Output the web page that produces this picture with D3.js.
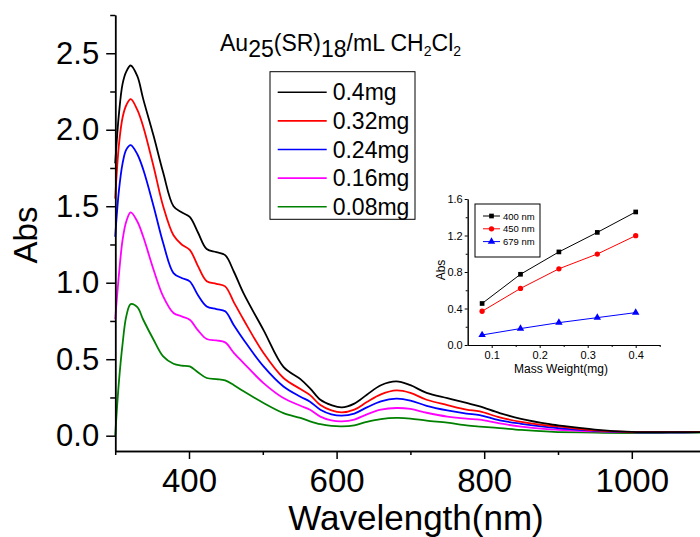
<!DOCTYPE html>
<html>
<head>
<meta charset="utf-8">
<script src="https://cdn.jsdelivr.net/npm/d3@7"></script>
<style>
  body { margin: 0; background: #ffffff; }
  svg { display: block; font-family: "Liberation Sans", Arial, sans-serif; }
</style>
</head>
<body>
<script>
// -----------------------------
// Data
// -----------------------------

const wavelengths = [300, 305, 310, 315, 321, 330, 338, 352, 365, 379, 390, 401, 412, 424, 437, 449, 461, 474, 501, 528,
  551, 564, 578, 593, 607, 624, 641, 660, 681, 700, 722, 750, 776, 794, 821, 850, 889, 900, 950, 1000, 1050, 1100];

const abs040 = [1.78, 2.10, 2.30, 2.38, 2.42, 2.35, 2.20, 1.96, 1.72, 1.50, 1.46, 1.43, 1.33, 1.22, 1.20, 1.18, 1.07, 0.93, 0.69, 0.45,
  0.37, 0.31, 0.235, 0.20, 0.185, 0.21, 0.268, 0.33, 0.355, 0.33, 0.28, 0.245, 0.214, 0.192, 0.148, 0.11, 0.075, 0.068, 0.04, 0.025, 0.023, 0.024];
const abs032 = [1.55, 1.90, 2.08, 2.16, 2.20, 2.13, 2.02, 1.76, 1.50, 1.31, 1.25, 1.215, 1.11, 1.01, 0.993, 0.976, 0.87, 0.758, 0.54, 0.377,
  0.305, 0.265, 0.20, 0.165, 0.152, 0.17, 0.22, 0.27, 0.296, 0.28, 0.235, 0.20, 0.17, 0.159, 0.12, 0.09, 0.065, 0.061, 0.035, 0.024, 0.023, 0.025];
const abs024 = [1.30, 1.60, 1.78, 1.87, 1.90, 1.84, 1.74, 1.50, 1.26, 1.063, 1.031, 1.009, 0.92, 0.845, 0.828, 0.813, 0.72, 0.627, 0.453, 0.322,
  0.255, 0.222, 0.17, 0.14, 0.131, 0.145, 0.185, 0.225, 0.242, 0.23, 0.195, 0.165, 0.145, 0.135, 0.10, 0.078, 0.055, 0.05, 0.032, 0.024, 0.022, 0.024];
const abs016 = [0.76, 1.05, 1.28, 1.40, 1.46, 1.40, 1.30, 1.085, 0.911, 0.802, 0.78, 0.758, 0.69, 0.632, 0.623, 0.61, 0.54, 0.475, 0.344, 0.246,
  0.196, 0.17, 0.125, 0.10, 0.094, 0.105, 0.14, 0.17, 0.181, 0.175, 0.15, 0.125, 0.111, 0.105, 0.08, 0.06, 0.042, 0.039, 0.028, 0.022, 0.022, 0.023];
const abs008 = [0.0, 0.35, 0.60, 0.78, 0.86, 0.84, 0.758, 0.627, 0.518, 0.47, 0.458, 0.453, 0.415, 0.377, 0.37, 0.362, 0.33, 0.29, 0.214, 0.148,
  0.116, 0.094, 0.075, 0.064, 0.061, 0.068, 0.09, 0.108, 0.116, 0.112, 0.098, 0.085, 0.068, 0.06, 0.05, 0.038, 0.026, 0.024, 0.02, 0.017, 0.018, 0.02];

const massLabels = ["0.4mg", "0.32mg", "0.24mg", "0.16mg", "0.08mg"];

const xTicks = [400, 600, 800, 1000];
const yTicks = [0, 0.5, 1.0, 1.5, 2.0, 2.5];

// inset: absorbance vs. mass at three wavelengths
const insetMass = [0.08, 0.16, 0.24, 0.32, 0.4];
const inset400 = [0.455, 0.775, 1.02, 1.234, 1.458];
const inset450 = [0.37, 0.62, 0.835, 0.997, 1.198];
const inset679 = [0.11, 0.18, 0.245, 0.30, 0.355];
const insetLabels = ["400 nm", "450 nm", "679 nm"];
const insetXTicks = [0.1, 0.2, 0.3, 0.4];
const insetYTicks = [0, 0.4, 0.8, 1.2, 1.6];

// -----------------------------
// SVG Setup
// -----------------------------

const WIDTH = 700;
const HEIGHT = 537;

const svg = d3.select("body")
  .append("svg")
  .attr("width", WIDTH)
  .attr("height", HEIGHT)
  .attr("viewBox", `0 0 ${WIDTH} ${HEIGHT}`);

// -----------------------------
// Main spectrum
// -----------------------------

const x = d3.scaleLinear().domain([300, 1100]).range([115.2, 705.6]);
const y = d3.scaleLinear().domain([-0.1, 2.75]).range([451, 15]);

const series = [
  { label: massLabels[0], values: abs040, color: "#000000" },
  { label: massLabels[1], values: abs032, color: "#ff0000" },
  { label: massLabels[2], values: abs024, color: "#0000ff" },
  { label: massLabels[3], values: abs016, color: "#ff00ff" },
  { label: massLabels[4], values: abs008, color: "#008000" }
];

const line = d3.line()
  .x((d, i) => x(wavelengths[i]))
  .y(d => y(d))
  .curve(d3.curveCatmullRom.alpha(0.5));

// draw lowest first so the black curve sits on top
svg.append("g")
  .selectAll("path")
  .data(series.slice().reverse())
  .join("path")
  .attr("d", d => line(d.values))
  .attr("fill", "none")
  .attr("stroke", d => d.color)
  .attr("stroke-width", 1.8)
  .attr("stroke-linejoin", "round");

// axes
function styleAxis(g, fontSize) {
  g.select(".domain").attr("stroke", "#000").attr("stroke-width", 1.5);
  g.selectAll(".tick line").attr("stroke", "#000").attr("stroke-width", 1.5);
  g.selectAll(".tick text")
    .attr("fill", "#000")
    .style("font-size", `${fontSize}px`)
    .style("font-family", "'Liberation Sans', Arial, sans-serif");
}

svg.append("g")
  .attr("transform", `translate(0, ${y.range()[0]})`)
  .call(d3.axisBottom(x).tickValues([300, 500, 700, 900, 1100]).tickSize(4).tickSizeOuter(0).tickFormat(""))
  .call(g => styleAxis(g, 33));

svg.append("g")
  .attr("transform", `translate(0, ${y.range()[0]})`)
  .call(d3.axisBottom(x).tickValues(xTicks).tickSize(8).tickSizeOuter(0).tickPadding(10).tickFormat(d3.format("d")))
  .call(g => styleAxis(g, 33));

svg.append("g")
  .attr("transform", `translate(${x.range()[0]}, 0)`)
  .call(d3.axisLeft(y).tickValues([0.25, 0.75, 1.25, 1.75, 2.25, 2.75]).tickSize(5).tickSizeOuter(0).tickFormat(""))
  .call(g => styleAxis(g, 31));

svg.append("g")
  .attr("transform", `translate(${x.range()[0]}, 0)`)
  .call(d3.axisLeft(y).tickValues(yTicks).tickSize(9).tickSizeOuter(0).tickPadding(7).tickFormat(d3.format(".1f")))
  .call(g => styleAxis(g, 31));

// axis titles
svg.append("text")
  .attr("x", 416)
  .attr("y", 530)
  .attr("text-anchor", "middle")
  .attr("font-size", 35)
  .text("Wavelength(nm)");

svg.append("text")
  .attr("transform", "translate(37, 235) rotate(-90)")
  .attr("text-anchor", "middle")
  .attr("font-size", 33)
  .text("Abs");

// title with subscripts
const title = svg.append("text")
  .attr("x", 220)
  .attr("y", 51)
  .attr("font-size", 23);
title.append("tspan").text("Au");
title.append("tspan").attr("dy", 6).text("25");
title.append("tspan").attr("dy", -6).text("(SR)");
title.append("tspan").attr("dy", 6).text("18");
title.append("tspan").attr("dy", -6).text("/mL CH");
title.append("tspan").attr("dy", 5).attr("font-size", 14).text("2");
title.append("tspan").attr("dy", -5).text("Cl");
title.append("tspan").attr("dy", 5).attr("font-size", 14).text("2");

// legend
const legend = svg.append("g");

legend.append("rect")
  .attr("x", 270)
  .attr("y", 71.7)
  .attr("width", 145)
  .attr("height", 147.6)
  .attr("fill", "#fff")
  .attr("stroke", "#000")
  .attr("stroke-width", 1);

const legendItem = legend.selectAll("g.item")
  .data(series)
  .join("g")
  .attr("class", "item")
  .attr("transform", (d, i) => `translate(0, ${92.3 + i * 28.6})`);

legendItem.append("line")
  .attr("x1", 277.7)
  .attr("x2", 326.7)
  .attr("stroke", d => d.color)
  .attr("stroke-width", 1.6);

legendItem.append("text")
  .attr("x", 332.7)
  .attr("dominant-baseline", "central")
  .attr("font-size", 23)
  .text(d => d.label);

// -----------------------------
// Inset
// -----------------------------

const xi = d3.scaleLinear().domain([0.05, 0.45]).range([467.7, 659.7]);
const yi = d3.scaleLinear().domain([0, 1.6]).range([345, 199]);

const insetSeries = [
  { label: insetLabels[0], values: inset400, color: "#000000", symbol: d3.symbolSquare, size: 22 },
  { label: insetLabels[1], values: inset450, color: "#ff0000", symbol: d3.symbolCircle, size: 22 },
  { label: insetLabels[2], values: inset679, color: "#0000ff", symbol: d3.symbolTriangle, size: 24 }
];

const inset = svg.append("g");

const insetLine = d3.line()
  .x((d, i) => xi(insetMass[i]))
  .y(d => yi(d));

const insetGroup = inset.selectAll("g.series")
  .data(insetSeries)
  .join("g")
  .attr("class", "series");

insetGroup.append("path")
  .attr("d", d => insetLine(d.values))
  .attr("fill", "none")
  .attr("stroke", d => d.color)
  .attr("stroke-width", 1);

insetGroup.selectAll("path.marker")
  .data(d => d.values.map((v, i) => ({ v, m: insetMass[i], s: d })))
  .join("path")
  .attr("class", "marker")
  .attr("transform", d => `translate(${xi(d.m)}, ${yi(d.v)})`)
  .attr("d", d => d3.symbol().type(d.s.symbol).size(d.s.size)())
  .attr("fill", d => d.s.color);

inset.append("g")
  .attr("transform", `translate(0, ${yi.range()[0]})`)
  .call(d3.axisBottom(xi).tickValues([0.15, 0.25, 0.35, 0.45]).tickSize(2).tickSizeOuter(0).tickFormat(""))
  .call(g => styleAxis(g, 11))
  .call(g => g.selectAll("line, path").attr("stroke-width", 1));

inset.append("g")
  .attr("transform", `translate(0, ${yi.range()[0]})`)
  .call(d3.axisBottom(xi).tickValues(insetXTicks).tickSize(3).tickSizeOuter(0).tickPadding(3).tickFormat(d3.format(".1f")))
  .call(g => styleAxis(g, 11))
  .call(g => g.selectAll("line, path").attr("stroke-width", 1));

inset.append("g")
  .attr("transform", `translate(${xi.range()[0]}, 0)`)
  .call(d3.axisLeft(yi).tickValues([0.2, 0.6, 1.0, 1.4]).tickSize(2).tickSizeOuter(0).tickFormat(""))
  .call(g => styleAxis(g, 11))
  .call(g => g.selectAll("line, path").attr("stroke-width", 1));

inset.append("g")
  .attr("transform", `translate(${xi.range()[0]}, 0)`)
  .call(d3.axisLeft(yi).tickValues(insetYTicks).tickSize(3).tickSizeOuter(0).tickPadding(2).tickFormat(d3.format(".1f")))
  .call(g => styleAxis(g, 11))
  .call(g => g.selectAll("line, path").attr("stroke-width", 1));

inset.append("text")
  .attr("x", 561)
  .attr("y", 373)
  .attr("text-anchor", "middle")
  .attr("font-size", 12)
  .text("Mass Weight(mg)");

inset.append("text")
  .attr("transform", "translate(445, 270) rotate(-90)")
  .attr("text-anchor", "middle")
  .attr("font-size", 12)
  .text("Abs");

// inset legend
inset.append("rect")
  .attr("x", 475)
  .attr("y", 204)
  .attr("width", 65)
  .attr("height", 53)
  .attr("fill", "#fff")
  .attr("stroke", "#000")
  .attr("stroke-width", 1);

const insetLegendItem = inset.selectAll("g.leg")
  .data(insetSeries)
  .join("g")
  .attr("class", "leg")
  .attr("transform", (d, i) => `translate(0, ${216 + i * 12.8})`);

insetLegendItem.append("line")
  .attr("x1", 483)
  .attr("x2", 500)
  .attr("stroke", d => d.color)
  .attr("stroke-width", 1);

insetLegendItem.append("path")
  .attr("transform", "translate(491.5, 0)")
  .attr("d", d => d3.symbol().type(d.symbol).size(d.size)())
  .attr("fill", d => d.color);

insetLegendItem.append("text")
  .attr("x", 503)
  .attr("dominant-baseline", "central")
  .attr("font-size", 9.5)
  .text(d => d.label);
</script>
</body>
</html>
